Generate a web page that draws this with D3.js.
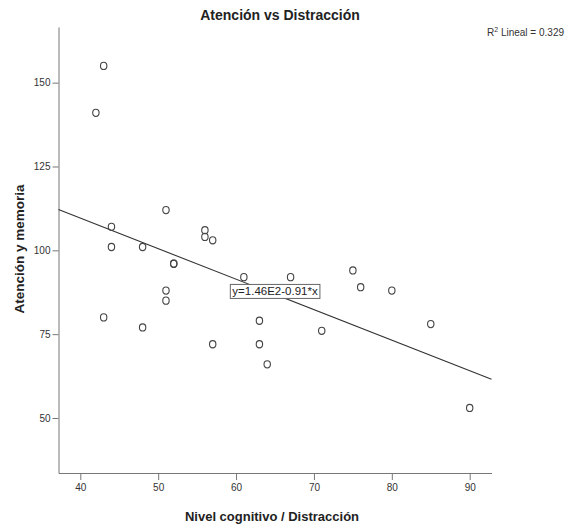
<!DOCTYPE html>
<html lang="es">
<head>
<meta charset="UTF-8">
<title>Atención vs Distracción</title>
<script src="https://d3js.org/d3.v7.min.js"></script>
<style>
  body { margin: 0; background: #fff; font-family: Arial, "Liberation Sans", sans-serif; }
  .axis path, .axis line { stroke: #777; }
  .axis text { fill: #333; font-size: 10px; font-family: Arial, "Liberation Sans", sans-serif; }
</style>
</head>
<body>
<div id="chart"></div>
<script>
// distraction score (x) and attention/memory score (y)
const distraccion = [42, 43, 43, 44, 44, 48, 48, 51, 51, 51, 52, 52, 56, 56, 57, 57,
                     61, 63, 63, 64, 67, 71, 75, 76, 80, 85, 90];
const atencion    = [141, 155, 80, 107, 101, 101, 77, 112, 88, 85, 96, 96, 106, 104, 103, 72,
                     92, 79, 72, 66, 92, 76, 94, 89, 88, 78, 53];
const xTicks = [40, 50, 60, 70, 80, 90];
const yTicks = [50, 75, 100, 125, 150];
const fit = [146, -0.91];          // intercept, slope
const r2 = 0.329;

const width = 570, height = 527;
const svg = d3.select("#chart").append("svg")
  .attr("width", width)
  .attr("height", height);

const x = d3.scaleLinear().domain([37.2, 92.8]).range([58.5, 491.5]);
const y = d3.scaleLinear().domain([33.6, 166.6]).range([473, 27]);

// axes
svg.append("g")
  .attr("class", "axis")
  .attr("transform", `translate(0,${y.range()[0]})`)
  .call(d3.axisBottom(x).tickValues(xTicks).tickSize(7).tickSizeOuter(0).tickPadding(4));

svg.append("g")
  .attr("class", "axis")
  .attr("transform", `translate(${x.range()[0]},0)`)
  .call(d3.axisLeft(y).tickValues(yTicks).tickSize(6).tickSizeOuter(0).tickPadding(2));

// fit line
const lineData = x.domain().map(v => ({ x: v, y: fit[0] + fit[1] * v }));
svg.append("path")
  .datum(lineData)
  .attr("fill", "none")
  .attr("stroke", "#333")
  .attr("stroke-width", 1.1)
  .attr("d", d3.line().x(d => x(d.x)).y(d => y(d.y)));

// points
svg.selectAll(".dot")
  .data(distraccion.map((d, i) => ({ x: d, y: atencion[i] })))
  .enter()
  .append("ellipse")
  .attr("class", "dot")
  .attr("cx", d => x(d.x))
  .attr("cy", d => y(d.y))
  .attr("rx", 3.2)
  .attr("ry", 3.6)
  .attr("fill", "none")
  .attr("stroke", "#444")
  .attr("stroke-width", 1.1);

// equation label at the middle of the line
const midX = d3.mean(x.domain());
const lbl = svg.append("g")
  .attr("transform", `translate(${x(midX)},${y(fit[0] + fit[1] * midX) - 3})`);
const lblText = lbl.append("text")
  .attr("text-anchor", "middle")
  .attr("y", 4)
  .style("font-size", "11.5px")
  .style("fill", "#222")
  .text(`y=${(fit[0] / 100).toFixed(2)}E2${fit[1]}*x`);
const bb = lblText.node().getBBox();
lbl.insert("rect", "text")
  .attr("x", bb.x - 2)
  .attr("y", bb.y - 1)
  .attr("width", bb.width + 4)
  .attr("height", bb.height + 2)
  .attr("fill", "#fff")
  .attr("stroke", "#666");

// titles
svg.append("text")
  .attr("x", 280)
  .attr("y", 20)
  .attr("text-anchor", "middle")
  .style("font-size", "14px")
  .style("font-weight", "bold")
  .style("fill", "#222")
  .text("Atención vs Distracción");

const r2Text = svg.append("text")
  .attr("x", 564)
  .attr("y", 36)
  .attr("text-anchor", "end")
  .style("font-size", "10px")
  .style("fill", "#333");
r2Text.append("tspan").text("R");
r2Text.append("tspan").attr("dy", -4).style("font-size", "7px").text("2");
r2Text.append("tspan").attr("dy", 4).text(` Lineal = ${r2.toFixed(3)}`);

svg.append("text")
  .attr("x", 272)
  .attr("y", 521)
  .attr("text-anchor", "middle")
  .style("font-size", "13px")
  .style("font-weight", "bold")
  .style("fill", "#222")
  .text("Nivel cognitivo / Distracción");

svg.append("text")
  .attr("transform", `translate(24,249) rotate(-90)`)
  .attr("text-anchor", "middle")
  .style("font-size", "13.5px")
  .style("font-weight", "bold")
  .style("fill", "#222")
  .text("Atención y memoria");
</script>
</body>
</html>
